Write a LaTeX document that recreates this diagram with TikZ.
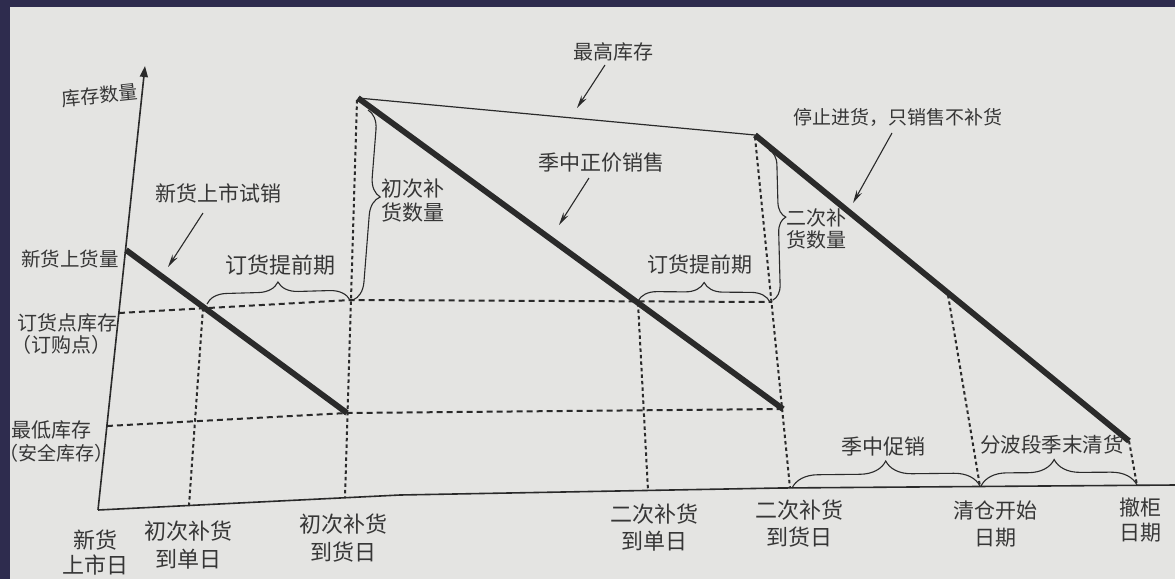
\documentclass[tikz,border=0pt]{standalone}
\usepackage{fontspec}
\setmainfont{Noto Sans CJK SC}
\usetikzlibrary{arrows.meta,decorations.pathreplacing}
\definecolor{framecol}{HTML}{2E2C4E}
\definecolor{paper}{HTML}{E4E4E2}
\definecolor{ink}{HTML}{2A2A2A}
\definecolor{txt}{HTML}{363636}
\begin{document}
\begin{tikzpicture}[x=1pt,y=-1pt,
  heavy/.style={ink, line width=5.8pt},
  thinline/.style={ink, line width=1.2pt},
  axisline/.style={ink, line width=1.6pt, line join=round},
  guide/.style={ink, line width=2pt, dash pattern=on 6pt off 4pt},
  vguide/.style={ink, line width=2pt, dash pattern=on 3.5pt off 3pt},
  callout/.style={ink, line width=1.1pt, -{Stealth[length=13pt,width=6pt]}},
  bracebox/.style={ink, line width=1.1pt, decorate, decoration={brace, amplitude=#1}},
  lbl/.style={text=txt, inner sep=0pt, align=center},
  fbot/.style={font=\fontsize{22}{28}\selectfont},
  fmid/.style={font=\fontsize{21}{24}\selectfont},
  fsm/.style={font=\fontsize{19.5}{22}\selectfont},
]
\useasboundingbox (0,0) rectangle (1175,579);
\fill[paper] (0,0) rectangle (1175,579);

% key coordinates
\coordinate (O) at (98,510);
\coordinate (ytip) at (145,66);
\coordinate (xa) at (400,495);
\coordinate (xb) at (780,488);
\coordinate (xend) at (1175,485);

\coordinate (s0) at (126,250);   % new stock level
\coordinate (s1) at (347,413);   % first low point
\coordinate (p1) at (358,98);    % first peak
\coordinate (s2) at (783,409);   % second low point
\coordinate (p2) at (755,135);   % second peak
\coordinate (s3) at (1129,441);  % end of season

\coordinate (r0) at (119,313);
\coordinate (rm) at (351,300);
\coordinate (r1) at (772,302);
\coordinate (m0) at (107,426);
\coordinate (m1) at (783,409);

\coordinate (v1t) at (203,308);  \coordinate (v1b) at (189,505.5);
\coordinate (v2t) at (357,100);  \coordinate (v2b) at (345,497.7);
\coordinate (v3t) at (638,303);  \coordinate (v3b) at (648,490.4);
\coordinate (v4t) at (755,137);  \coordinate (v4b) at (790,488);
\coordinate (v5t) at (948,295);  \coordinate (v5b) at (980,486.5);
\coordinate (v6t) at (1129,441); \coordinate (v6b) at (1137,485.3);

% axes
\draw[axisline] (O) -- (xa) -- (xb) -- (xend);
\draw[axisline, -{Triangle[length=11pt,width=8pt]}] (O) -- (ytip);

% dashed guides
\draw[guide] (r0) -- (rm) -- (r1);
\draw[guide] (m0) -- (s1) -- (m1);
\draw[vguide] (v1t) -- (v1b);
\draw[vguide] (v2t) -- (v2b);
\draw[vguide] (v3t) -- (v3b);
\draw[vguide] (v4t) -- (v4b);
\draw[vguide] (v5t) -- (v5b);
\draw[vguide] (v6t) -- (v6b);

% inventory curve
\draw[thinline] (p1) -- (p2);
\draw[heavy] (s0) -- (s1);
\draw[heavy] (p1) -- (s2);
\draw[heavy] (p2) -- (s3);

% braces
\coordinate (b1a) at (207,304); \coordinate (b1b) at (350,300);
\coordinate (b2a) at (638,301); \coordinate (b2b) at (770,302);
\coordinate (b3a) at (368,110); \coordinate (b3b) at (353,300);
\coordinate (b4a) at (769,150); \coordinate (b4b) at (773,300);
\coordinate (b5a) at (792,488); \coordinate (b5b) at (980,486);
\coordinate (b6a) at (981,486); \coordinate (b6b) at (1137,485);
\draw[bracebox=20] (b1a) -- (b1b);
\draw[bracebox=19] (b2a) -- (b2b);
\draw[bracebox=19, decoration={aspect=0.45}] (b3a) -- (b3b);
\draw[bracebox=15, decoration={aspect=0.45}] (b4a) -- (b4b);
\draw[bracebox=26] (b5a) -- (b5b);
\draw[bracebox=26, decoration={aspect=0.47}] (b6a) -- (b6b);

% callout arrows
\coordinate (a1s) at (203,213); \coordinate (a1e) at (168,267);
\coordinate (a2s) at (605,65);  \coordinate (a2e) at (577,108);
\coordinate (a3s) at (589,178); \coordinate (a3e) at (559,225);
\coordinate (a4s) at (892,133); \coordinate (a4e) at (853,203);
\draw[callout] (a1s) -- (a1e);
\draw[callout] (a2s) -- (a2e);
\draw[callout] (a3s) -- (a3e);
\draw[callout] (a4s) -- (a4e);

% upper labels
\node[lbl, fmid] (tTrial) at (218,193) {新货上市试销};
\node[lbl, fbot] (tLead1) at (280,265) {订货提前期};
\node[lbl, fmid, anchor=west, align=left] (tQty1) at (381,201) {初次补\\货数量};
\node[lbl, font=\fontsize{20}{24}\selectfont] (tMax) at (613,52) {最高库存};
\node[lbl, fmid] (tFull) at (601,163) {季中正价销售};
\node[lbl, fmid] (tLead2) at (700,265) {订货提前期};
\node[lbl, font=\fontsize{19}{22}\selectfont] (tStop) at (898,117) {停止进货，只销售不补货};
\node[lbl, font=\fontsize{20}{22}\selectfont, anchor=west, align=left] (tQty2) at (786,229) {二次补\\货数量};
\node[lbl, fmid] (tPromo) at (883,447) {季中促销};
\node[lbl, font=\fontsize{20.5}{24}\selectfont] (tClear) at (1052,445) {分波段季末清货};

% left labels
\node[lbl, font=\fontsize{19}{22}\selectfont, rotate=6] (tYax) at (100,95) {库存数量};
\node[lbl, fsm] (tNew) at (70,259) {新货上货量};
\node[lbl, font=\fontsize{20}{22}\selectfont] (tROP) at (67,323) {订货点库存};
\node[lbl, font=\fontsize{20}{22}\selectfont] (tROP2) at (61,345) {（订购点）};
\node[lbl, font=\fontsize{20}{22}\selectfont] (tMin) at (52,430) {最低库存};
\node[lbl, font=\fontsize{19}{22}\selectfont] (tMin2) at (56,453) {（安全库存）};

% bottom labels
\node[lbl, font=\fontsize{22}{25}\selectfont] (d0) at (95,553) {新货\\上市日};
\node[lbl, fbot] (d1) at (188,545) {初次补货\\到单日};
\node[lbl, fbot] (d2) at (343,538) {初次补货\\到货日};
\node[lbl, font=\fontsize{22}{27}\selectfont] (d3) at (654,528) {二次补货\\到单日};
\node[lbl, font=\fontsize{22}{27}\selectfont] (d4) at (799,524) {二次补货\\到货日};
\node[lbl, font=\fontsize{21}{27}\selectfont] (d5) at (995,524) {清仓开始\\日期};
\node[lbl, font=\fontsize{21}{25}\selectfont] (d6) at (1140,520) {撤柜\\日期};

% photo frame
\fill[framecol] (0,0) rectangle (1175,7);
\fill[framecol] (0,0) rectangle (10,579);
\end{tikzpicture}
\end{document}
